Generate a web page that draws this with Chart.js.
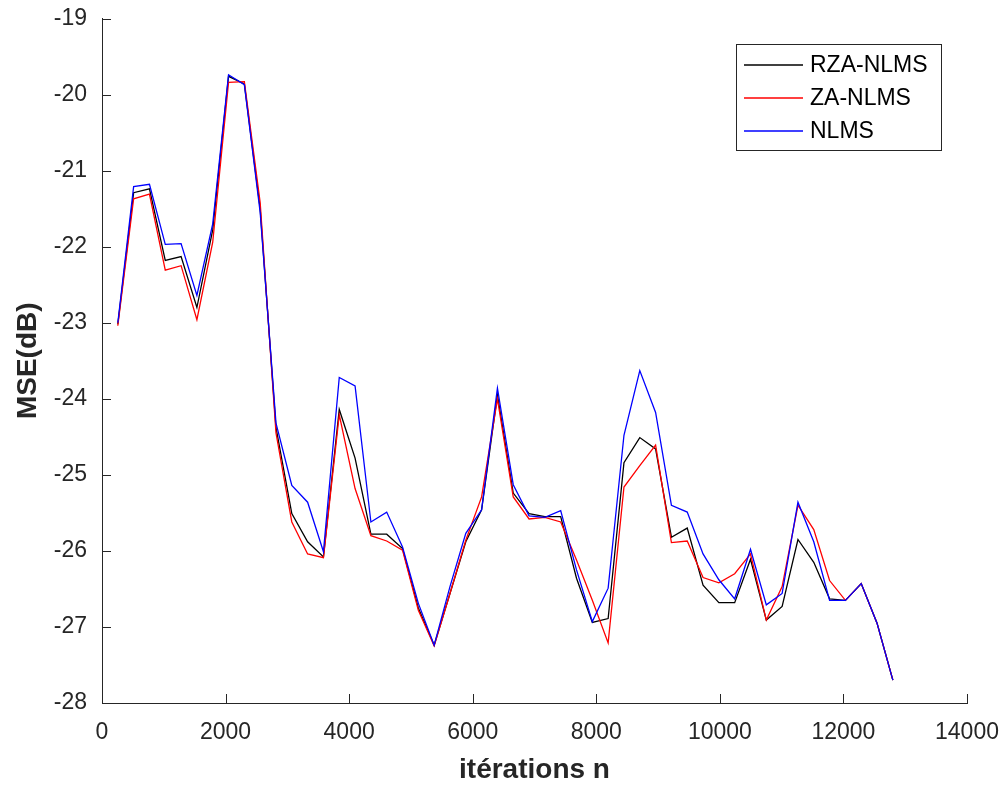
<!DOCTYPE html>
<html>
<head>
<meta charset="utf-8">
<script src="https://cdn.jsdelivr.net/npm/chart.js@4/dist/chart.umd.min.js"></script>
<style>
html,body{margin:0;padding:0;background:#fff;}
#wrap{width:1007px;height:787px;position:relative;}
</style>
</head>
<body>
<div id="wrap"><canvas id="c" width="1007" height="787"></canvas></div>
<script>
const iterations = [256,512,768,1024,1280,1536,1792,2048,2304,2560,2816,3072,3328,3584,3840,4096,4352,4608,4864,5120,5376,5632,5888,6144,6400,6656,6912,7168,7424,7680,7936,8192,8448,8704,8960,9216,9472,9728,9984,10240,10496,10752,11008,11264,11520,11776,12032,12288,12544,12800];
const rzaNlms = [-23.02,-21.29,-21.24,-22.18,-22.13,-22.80,-21.78,-19.76,-19.86,-21.50,-24.38,-25.51,-25.88,-26.08,-24.14,-24.78,-25.78,-25.78,-25.97,-26.75,-27.24,-26.56,-25.88,-25.46,-23.95,-25.24,-25.51,-25.55,-25.55,-26.36,-26.94,-26.89,-24.84,-24.51,-24.66,-25.82,-25.70,-26.45,-26.68,-26.68,-26.11,-26.91,-26.73,-25.85,-26.15,-26.63,-26.65,-26.43,-26.95,-27.70];
const zaNlms = [-23.04,-21.37,-21.31,-22.31,-22.25,-22.96,-21.94,-19.84,-19.83,-21.42,-24.45,-25.62,-26.04,-26.09,-24.21,-25.18,-25.80,-25.87,-25.99,-26.78,-27.25,-26.56,-25.86,-25.29,-24.00,-25.29,-25.58,-25.56,-25.62,-26.12,-26.65,-27.21,-25.16,-24.88,-24.61,-25.89,-25.87,-26.35,-26.42,-26.30,-26.04,-26.91,-26.47,-25.40,-25.72,-26.39,-26.65,-26.43,-26.95,-27.70];
const nlms = [-23.00,-21.21,-21.18,-21.97,-21.96,-22.64,-21.70,-19.74,-19.87,-21.55,-24.32,-25.14,-25.36,-26.01,-23.72,-23.83,-25.62,-25.49,-25.95,-26.69,-27.24,-26.47,-25.77,-25.46,-23.86,-25.13,-25.54,-25.56,-25.47,-26.25,-26.93,-26.49,-24.48,-23.63,-24.18,-25.40,-25.49,-26.04,-26.38,-26.63,-25.98,-26.71,-26.56,-25.36,-25.88,-26.65,-26.65,-26.43,-26.95,-27.70];
const seriesLabels = ['RZA-NLMS','ZA-NLMS','NLMS'];
const seriesColors = ['#000000','#ff0000','#0000ff'];
const xTitle = 'itérations n';
const yTitle = 'MSE(dB)';

const FONT = '"Liberation Sans", Arial, Helvetica, sans-serif';
const AX = '#262626';

function pts(vals){ return iterations.map((x,i)=>({x:x,y:vals[i]})); }

const inwardTicks = {
  id:'inwardTicks',
  afterDraw(chart){
    const ctx = chart.ctx, xs = chart.scales.x, ys = chart.scales.y;
    const a = chart.chartArea, L = 9;
    ctx.save();
    ctx.strokeStyle = AX; ctx.lineWidth = 1;
    ctx.beginPath();
    xs.ticks.forEach(t=>{
      const px = Math.round(xs.getPixelForValue(t.value))+0.5;
      ctx.moveTo(px, a.bottom); ctx.lineTo(px, a.bottom - L);
    });
    ys.ticks.forEach(t=>{
      const py = Math.round(ys.getPixelForValue(t.value))+0.5;
      ctx.moveTo(a.left, py); ctx.lineTo(a.left + L, py);
    });
    ctx.stroke();
    ctx.restore();
  }
};

const boxLegend = {
  id:'boxLegend',
  afterDraw(chart){
    const ctx = chart.ctx;
    const bx = 736, by = 44, bw = 205, bh = 106;
    ctx.save();
    ctx.fillStyle = '#fff';
    ctx.fillRect(bx, by, bw, bh);
    ctx.strokeStyle = AX; ctx.lineWidth = 1;
    ctx.strokeRect(bx+0.5, by+0.5, bw, bh);
    ctx.font = '23px ' + FONT;
    ctx.textBaseline = 'middle';
    ctx.textAlign = 'left';
    const rows = [65, 98, 131];
    seriesLabels.forEach((lab,i)=>{
      const y = rows[i];
      ctx.strokeStyle = seriesColors[i]; ctx.lineWidth = 1.4;
      ctx.beginPath(); ctx.moveTo(744, y); ctx.lineTo(803, y); ctx.stroke();
      ctx.fillStyle = '#000';
      ctx.fillText(lab, 810, y+1);
    });
    ctx.restore();
  }
};

new Chart(document.getElementById('c'), {
  type:'line',
  data:{
    datasets:[
      {label:seriesLabels[0], data:pts(rzaNlms), borderColor:seriesColors[0], order:3},
      {label:seriesLabels[1], data:pts(zaNlms), borderColor:seriesColors[1], order:2},
      {label:seriesLabels[2], data:pts(nlms), borderColor:seriesColors[2], order:1}
    ]
  },
  options:{
    responsive:false,
    animation:false,
    devicePixelRatio:1,
    elements:{
      line:{borderWidth:1.3, tension:0, fill:false},
      point:{radius:0, hoverRadius:0}
    },
    layout:{padding:{top:18.5, right:40, left:0, bottom:0}},
    plugins:{legend:{display:false}, tooltip:{enabled:false}},
    scales:{
      x:{
        type:'linear', min:0, max:14000,
        ticks:{stepSize:2000, color:AX, font:{family:FONT, size:23}, padding:16, maxRotation:0, autoSkip:false,
               callback:(v)=>String(v)},
        grid:{display:false, drawTicks:false},
        border:{display:true, color:AX, width:1},
        title:{display:true, text:xTitle, color:AX, font:{family:FONT, size:28, weight:'bold'}, padding:{top:0,bottom:0}},
        afterFit(s){ s.height = 84; s.paddingLeft = 0; s.paddingRight = 0; }
      },
      y:{
        type:'linear', min:-28, max:-19,
        ticks:{stepSize:1, color:AX, font:{family:FONT, size:23}, padding:15, callback:(v)=>String(v)},
        grid:{display:false, drawTicks:false},
        border:{display:true, color:AX, width:1},
        title:{display:true, text:yTitle, color:AX, font:{family:FONT, size:28, weight:'bold'}, padding:{top:11,bottom:0}},
        afterFit(s){ s.width = 102; s.paddingTop = 0; s.paddingBottom = 0; }
      }
    }
  },
  plugins:[inwardTicks, boxLegend]
});
</script>
</body>
</html>
